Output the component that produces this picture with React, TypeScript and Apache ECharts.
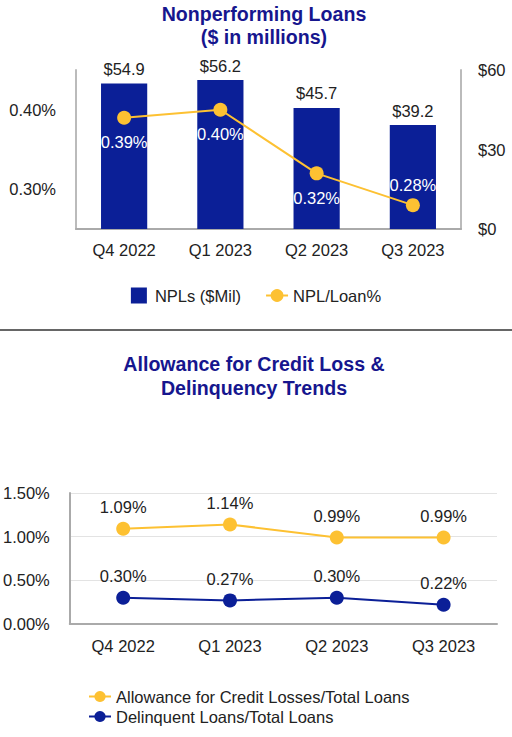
import React, { useEffect, useRef } from 'react';
import * as echarts from 'echarts';

const quarters = ['Q4 2022', 'Q1 2023', 'Q2 2023', 'Q3 2023'];
const nplValues = [54.9, 56.2, 45.7, 39.2];
const nplLoanPct = [0.39, 0.4, 0.32, 0.28];
const allowancePct = [1.09, 1.14, 0.99, 0.99];
const delinquentPct = [0.3, 0.27, 0.3, 0.22];

const NAVY = '#0B1F97';
const GOLD = '#FDC132';
const TITLE = '#16168E';
const FONT = 'Liberation Sans, Arial, sans-serif';

const App: React.FC = () => {
    const chartRef = useRef<HTMLDivElement>(null);

    useEffect(() => {
        const chartDom = chartRef.current!;
        const myChart = echarts.init(chartDom, null, { renderer: 'svg' });
        const axisText = { color: '#222', fontSize: 16.5, fontFamily: FONT };
        const option: any = {
            animation: false,
            textStyle: { fontFamily: FONT },
            title: [
                {
                    text: 'Nonperforming Loans\n($ in millions)',
                    left: 259, top: -3, textAlign: 'center',
                    textStyle: { color: TITLE, fontSize: 19.6, fontWeight: 'bold', lineHeight: 23, fontFamily: FONT },
                },
                {
                    text: 'Allowance for Credit Loss &\nDelinquency Trends',
                    left: 249, top: 347, textAlign: 'center',
                    textStyle: { color: TITLE, fontSize: 19.6, fontWeight: 'bold', lineHeight: 24, fontFamily: FONT },
                },
            ],
            legend: [
                {
                    top: 282, left: 'center',
                    itemWidth: 22, itemHeight: 16, itemGap: 24,
                    textStyle: axisText,
                    data: [
                        { name: 'NPLs ($Mil)', icon: 'path://M0,0H10V10H0Z' },
                        { name: 'NPL/Loan%' },
                    ],
                },
                {
                    top: 683, left: 83, orient: 'vertical',
                    itemWidth: 22, itemHeight: 14, itemGap: 3,
                    textStyle: axisText,
                    data: ['Allowance for Credit Losses/Total Loans', 'Delinquent Loans/Total Loans'],
                },
            ],
            graphic: [
                {
                    type: 'line', shape: { x1: 0, y1: 330, x2: 512, y2: 330 },
                    style: { stroke: '#666', lineWidth: 2 },
                },
            ],
            grid: [
                { left: 76, top: 70, width: 385, height: 159 },
                { left: 67, top: 493, width: 430, height: 131 },
            ],
            xAxis: [
                {
                    type: 'category', gridIndex: 0, data: quarters,
                    axisLine: { lineStyle: { color: '#aaa', width: 2 } },
                    axisTick: { show: false },
                    axisLabel: { ...axisText, margin: 12 },
                },
                {
                    type: 'category', gridIndex: 1, data: quarters,
                    axisLine: { lineStyle: { color: '#aaa', width: 2 } },
                    axisTick: { show: false },
                    axisLabel: { ...axisText, margin: 13 },
                },
            ],
            yAxis: [
                {
                    type: 'value', gridIndex: 0, min: 0.25, max: 0.45, interval: 0.05,
                    axisLine: { show: true, lineStyle: { color: '#bbb', width: 2 } },
                    axisTick: { show: false },
                    splitLine: { show: false },
                    axisLabel: {
                        ...axisText, margin: 20,
                        formatter: (v: number) => {
                            const k = Math.round(v * 100);
                            return k === 30 || k === 40 ? v.toFixed(2) + '%' : '';
                        },
                    },
                },
                {
                    type: 'value', gridIndex: 0, position: 'right', min: 0, max: 60, interval: 30,
                    axisLine: { show: true, lineStyle: { color: '#bbb', width: 2 } },
                    axisTick: { show: false },
                    splitLine: { show: false },
                    axisLabel: { ...axisText, margin: 17, formatter: (v: number) => '$' + v },
                },
                {
                    type: 'value', gridIndex: 1, min: 0, max: 1.5, interval: 0.5,
                    axisLine: { show: true, lineStyle: { color: '#aaa', width: 2 } },
                    axisTick: { show: false },
                    splitLine: { lineStyle: { color: '#e3e3e3', width: 1 } },
                    axisLabel: { ...axisText, margin: 20, formatter: (v: number) => v.toFixed(2) + '%' },
                },
            ],
            series: [
                {
                    name: 'NPLs ($Mil)', type: 'bar', xAxisIndex: 0, yAxisIndex: 1,
                    data: nplValues, barWidth: '48%',
                    itemStyle: { color: NAVY },
                    label: {
                        show: true, position: 'top', distance: 6, ...axisText,
                        formatter: (p: any) => '$' + p.value.toFixed(1),
                    },
                },
                {
                    name: 'NPL/Loan%', type: 'line', xAxisIndex: 0, yAxisIndex: 0,
                    data: nplLoanPct.map((v, i) =>
                        i === nplLoanPct.length - 1 ? { value: v, label: { position: 'top', distance: 5 } } : v),
                    symbol: 'circle', symbolSize: 14,
                    itemStyle: { color: GOLD }, lineStyle: { color: GOLD, width: 2 },
                    label: {
                        show: true, position: 'bottom', distance: 9,
                        color: '#fff', fontSize: 16.5, fontFamily: FONT,
                        formatter: (p: any) => p.value.toFixed(2) + '%',
                    },
                },
                {
                    name: 'Allowance for Credit Losses/Total Loans', type: 'line', xAxisIndex: 1, yAxisIndex: 2,
                    data: allowancePct, symbol: 'circle', symbolSize: 14,
                    itemStyle: { color: GOLD }, lineStyle: { color: GOLD, width: 2 },
                    label: {
                        show: true, position: 'top', distance: 6, ...axisText,
                        formatter: (p: any) => p.value.toFixed(2) + '%',
                    },
                },
                {
                    name: 'Delinquent Loans/Total Loans', type: 'line', xAxisIndex: 1, yAxisIndex: 2,
                    data: delinquentPct, symbol: 'circle', symbolSize: 14,
                    itemStyle: { color: NAVY }, lineStyle: { color: NAVY, width: 2 },
                    label: {
                        show: true, position: 'top', distance: 6, ...axisText,
                        formatter: (p: any) => p.value.toFixed(2) + '%',
                    },
                },
            ],
        };

        myChart.setOption(option);

        return () => {
            myChart.dispose();
        };
    }, []);

    return (
        <div
            ref={chartRef}
            style={{ position: 'absolute', left: 0, top: 0, width: 512, height: 737, background: '#fff' }}
        />
    );
};

export default App;
